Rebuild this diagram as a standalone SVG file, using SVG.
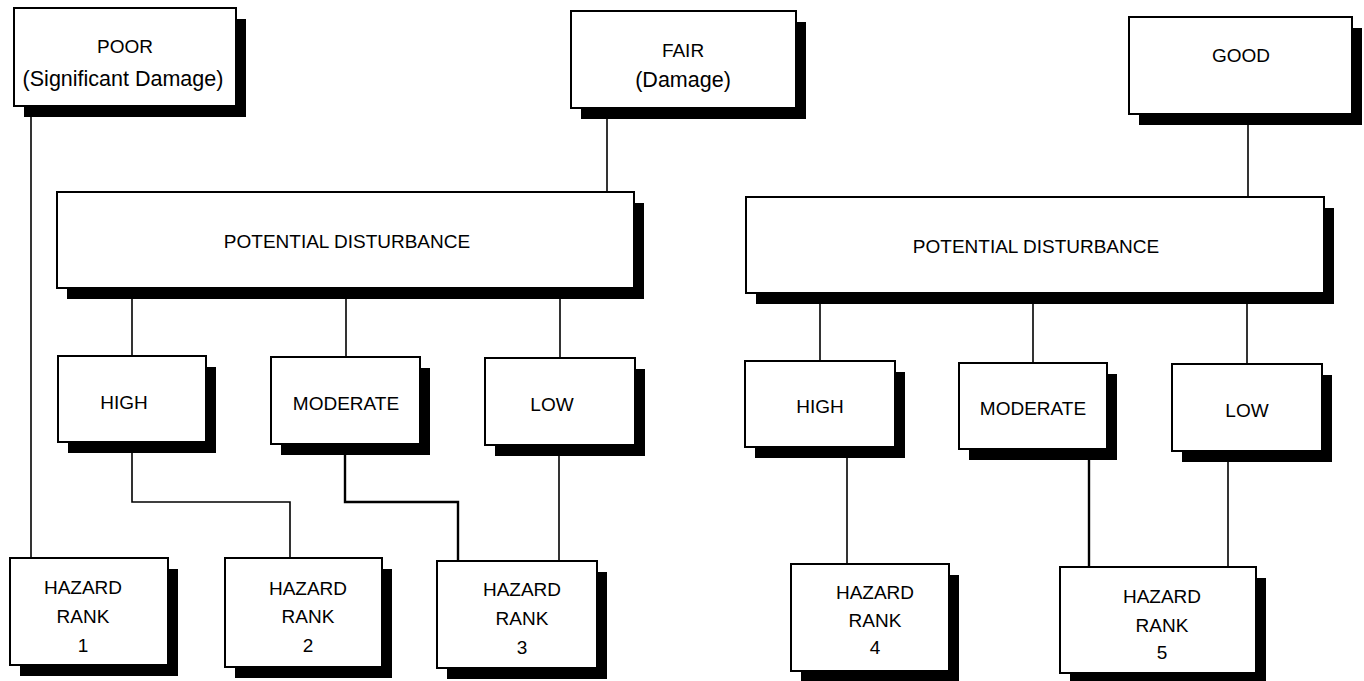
<svg xmlns="http://www.w3.org/2000/svg" width="1364" height="681" viewBox="0 0 1364 681">
<style>
.sh{fill:#000}
.bx{fill:#fff;stroke:#000;stroke-width:2}
.t{font-family:"Liberation Sans",Arial,sans-serif;font-size:19px;fill:#000;text-anchor:middle}
.tl{font-size:21.5px}
.c{fill:none;stroke:#000;stroke-width:1.6}
.ck{stroke-width:2.4}
</style>
<rect width="1364" height="681" fill="#fff"/>
<g id="connectors">
<path class="c" d="M31,117 V558"/>
<path class="c" d="M607,119 V192"/>
<path class="c" d="M1248,125 V197"/>
<path class="c" d="M132,299 V356"/>
<path class="c" d="M346,299 V357"/>
<path class="c" d="M560,299 V358"/>
<path class="c" d="M820,304 V361"/>
<path class="c" d="M1033,304 V363"/>
<path class="c" d="M1247,304 V364"/>
<path class="c" d="M132,453 V502 H290 V558"/>
<path class="c ck" d="M345,455 V502 H458 V561"/>
<path class="c" d="M559,456 V561"/>
<path class="c" d="M847,458 V564"/>
<path class="c ck" d="M1089,460 V567"/>
<path class="c" d="M1228,462 V567"/>
</g>
<g id="poor">
<rect class="sh" x="24" y="19" width="222" height="98"/>
<rect class="bx" x="14" y="8" width="222" height="98"/>
<text class="t" x="125" y="53">POOR</text>
<text class="t tl" x="123" y="86">(Significant Damage)</text>
</g>
<g id="fair">
<rect class="sh" x="581" y="22" width="225" height="97"/>
<rect class="bx" x="571" y="11" width="225" height="97"/>
<text class="t" x="683" y="57">FAIR</text>
<text class="t tl" x="683" y="87">(Damage)</text>
</g>
<g id="good">
<rect class="sh" x="1139" y="28" width="223" height="97"/>
<rect class="bx" x="1129" y="17" width="223" height="97"/>
<text class="t" x="1241" y="62">GOOD</text>
</g>
<g id="pd-left">
<rect class="sh" x="67" y="203" width="577" height="96"/>
<rect class="bx" x="57" y="192" width="577" height="96"/>
<text class="t" x="347" y="248">POTENTIAL DISTURBANCE</text>
</g>
<g id="pd-right">
<rect class="sh" x="756" y="208" width="578" height="96"/>
<rect class="bx" x="746" y="197" width="578" height="96"/>
<text class="t" x="1036" y="253">POTENTIAL DISTURBANCE</text>
</g>
<g id="high-left">
<rect class="sh" x="68" y="367" width="148" height="86"/>
<rect class="bx" x="58" y="356" width="148" height="86"/>
<text class="t" x="124" y="409">HIGH</text>
</g>
<g id="moderate-left">
<rect class="sh" x="281" y="368" width="149" height="87"/>
<rect class="bx" x="271" y="357" width="149" height="87"/>
<text class="t" x="346" y="410">MODERATE</text>
</g>
<g id="low-left">
<rect class="sh" x="495" y="369" width="150" height="87"/>
<rect class="bx" x="485" y="358" width="150" height="87"/>
<text class="t" x="552" y="411">LOW</text>
</g>
<g id="high-right">
<rect class="sh" x="755" y="372" width="150" height="86"/>
<rect class="bx" x="745" y="361" width="150" height="86"/>
<text class="t" x="820" y="413">HIGH</text>
</g>
<g id="moderate-right">
<rect class="sh" x="969" y="374" width="148" height="86"/>
<rect class="bx" x="959" y="363" width="148" height="86"/>
<text class="t" x="1033" y="415">MODERATE</text>
</g>
<g id="low-right">
<rect class="sh" x="1182" y="375" width="150" height="87"/>
<rect class="bx" x="1172" y="364" width="150" height="87"/>
<text class="t" x="1247" y="417">LOW</text>
</g>
<g id="rank1">
<rect class="sh" x="20" y="569" width="158" height="107"/>
<rect class="bx" x="10" y="558" width="158" height="107"/>
<text class="t" x="83" y="594">HAZARD</text>
<text class="t" x="83" y="623">RANK</text>
<text class="t" x="83" y="652">1</text>
</g>
<g id="rank2">
<rect class="sh" x="235" y="569" width="157" height="109"/>
<rect class="bx" x="225" y="558" width="157" height="109"/>
<text class="t" x="308" y="595">HAZARD</text>
<text class="t" x="308" y="623">RANK</text>
<text class="t" x="308" y="652">2</text>
</g>
<g id="rank3">
<rect class="sh" x="447" y="572" width="160" height="107"/>
<rect class="bx" x="437" y="561" width="160" height="107"/>
<text class="t" x="522" y="596">HAZARD</text>
<text class="t" x="522" y="625">RANK</text>
<text class="t" x="522" y="654">3</text>
</g>
<g id="rank4">
<rect class="sh" x="801" y="575" width="158" height="107"/>
<rect class="bx" x="791" y="564" width="158" height="107"/>
<text class="t" x="875" y="599">HAZARD</text>
<text class="t" x="875" y="627">RANK</text>
<text class="t" x="875" y="654">4</text>
</g>
<g id="rank5">
<rect class="sh" x="1070" y="578" width="196" height="106"/>
<rect class="bx" x="1060" y="567" width="196" height="106"/>
<text class="t" x="1162" y="603">HAZARD</text>
<text class="t" x="1162" y="632">RANK</text>
<text class="t" x="1162" y="659">5</text>
</g>
</svg>
